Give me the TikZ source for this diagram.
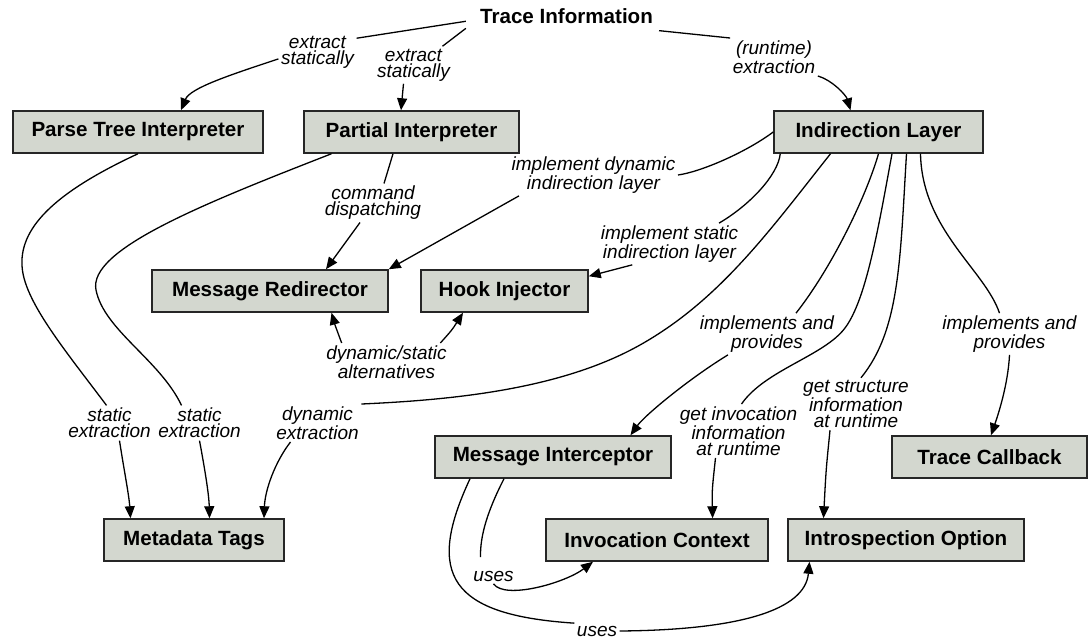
\documentclass[tikz,border=0pt]{standalone}
\usepackage{fontspec}
\setmainfont{Liberation Sans}
\usetikzlibrary{arrows.meta}
\definecolor{boxgray}{RGB}{211,215,207}

\begin{document}
\begin{tikzpicture}[x=1pt, y=-1pt, line width=1.3pt,
	box/.style={draw=black!85, line width=1.5pt, fill=boxgray, minimum height=42pt, inner sep=0pt, font=\fontsize{20.6}{24}\selectfont\bfseries},
	lbl/.style={align=center, inner sep=2pt, font=\fontsize{19}{16}\selectfont\itshape},
	link/.style={black},
	arr/.style={black, -{Triangle[length=12pt,width=10pt]}}]
			\useasboundingbox (0,0) rectangle (1089,639);
			
			%nodes
			\node[font=\fontsize{20.6}{24}\selectfont\bfseries, minimum width=200pt, minimum height=28pt, inner sep=0pt] (trace) at (566.5,16) {Trace Information};
			\node[box, minimum width=250pt] (parse) at (138,132) {Parse Tree Interpreter};
			\node[box, minimum width=215pt] (partial) at (411.5,132) {Partial Interpreter};
			\node[box, minimum width=209pt] (indir) at (878.5,132) {Indirection Layer};
			\node[box, minimum width=236pt] (redir) at (270,291) {Message Redirector};
			\node[box, minimum width=167pt] (hook) at (504.5,291) {Hook Injector};
			\node[box, minimum width=180pt] (meta) at (194,540) {Metadata Tags};
			\node[box, minimum width=236pt] (intc) at (553,457) {Message Interceptor};
			\node[box, minimum width=222pt] (invc) at (657,540) {Invocation Context};
			\node[box, minimum width=236pt] (intro) at (906,540) {Introspection Option};
			\node[box, minimum width=195pt] (callback) at (989.5,457) {Trace Callback};
			
			%edge labels
			\node[lbl] (lA) at (317.5,52) {extract\\statically};
			\node[lbl] (lB) at (413.5,65) {extract\\statically};
			\node[lbl] (lC) at (774,57) {(runtime)\\extraction};
			\node[lbl] (lD) at (373,203) {command\\dispatching};
			\node[lbl] (lE) at (593.5,175) {implement dynamic\\indirection layer};
			\node[lbl] (lF) at (669.5,244) {implement static\\indirection layer};
			\node[lbl] (lG) at (317.5,423) {dynamic\\extraction};
			\node[lbl] (lH) at (109.5,423) {static\\extraction};
			\node[lbl] (lI) at (199.5,423) {static\\extraction};
			\node[lbl] (lJ) at (386.5,362) {dynamic/static\\alternatives};
			\node[lbl] (lK) at (767,334) {implements and\\provides};
			\node[lbl] (lK2) at (738.5,431) {get invocation\\information\\at runtime};
			\node[lbl] (lK3) at (856,404) {get structure\\information\\at runtime};
			\node[lbl] (lK4) at (1009.5,334) {implements and\\provides};
			\node[lbl] (lL) at (493.5,576) {uses};
			\node[lbl] (lM) at (597,631) {uses};
			
			%from the trace information
			\draw[link] (trace.183) -- ([yshift=-5pt]lA.north east);
			\draw[arr] (lA.190) .. controls (230,75) and (190,88) .. ([xshift=43pt]parse.north);
			\draw[link] (trace.187) -- ([xshift=29pt]lB.north);
			\draw[arr] ([xshift=-10pt]lB.south) -- ([xshift=-10.5pt]partial.north);
			\draw[link] (trace.-9) -- (lC.north west);
			\draw[arr] (lC.south east) .. controls (832,80) and (846,95) .. ([xshift=-28pt]indir.north);
			
			%partial interpreter and parse tree
			\draw[link] ([xshift=-18.5pt]partial.south) -- ([xshift=11pt]lD.north);
			\draw[arr] ([xshift=-13pt]lD.south) -- ([xshift=56pt]redir.north);
			\draw[link] (parse.south) .. controls (60,190) and (20,225) .. (22,265) .. controls (23,300) and (65,350) .. ([xshift=-3pt]lH.north);
			\draw[arr] ([xshift=10pt]lH.south) .. controls (124,470) and (129,495) .. ([xshift=-63.5pt]meta.north);
			\draw[link] ([xshift=-80pt]partial.south) .. controls (200,205) and (88,250) .. (96,290) .. controls (104,330) and (160,360) .. ([xshift=-18pt]lI.north);
			\draw[arr] (lI.south) .. controls (205,470) and (209,495) .. ([xshift=15.5pt]meta.north);
			
			%indirection layer
			\draw[link] (indir.west) .. controls (745,153) and (700,172) .. (lE.east);
			\draw[arr] ([xshift=10pt]lE.south west) -- (redir.north east);
			\draw[link] ([xshift=7pt]indir.south west) .. controls (778,175) and (750,205) .. ([xshift=49.5pt]lF.north);
			\draw[arr] ([xshift=34pt]lF.south west) -- ([yshift=-7pt]hook.north east);
			\draw[link] ([xshift=-48pt]indir.south) .. controls (770,230) and (720,300) .. (640,345) .. controls (560,390) and (450,400) .. (lG.north east);
			\draw[arr] ([xshift=-27pt]lG.south) .. controls (275,462) and (265,490) .. ([xshift=70pt]meta.north);
			\draw[link] (indir.south) .. controls (865,200) and (830,270) .. ([xshift=29pt]lK.north);
			\draw[arr] ([xshift=-39pt]lK.south) .. controls (690,378) and (645,415) .. ([xshift=77.5pt]intc.north);
			\draw[link] ([xshift=13.5pt]indir.south) .. controls (878,230) and (866,300) .. (845,328) .. controls (824,356) and (765,370) .. ([xshift=3pt]lK2.north);
			\draw[arr] ([xshift=-23pt]lK2.south) .. controls (712,490) .. ([xshift=55.6pt]invc.north);
			\draw[link] ([xshift=28pt]indir.south) .. controls (900,260) and (900,330) .. ([xshift=5pt]lK3.north);
			\draw[arr] ([xshift=-26pt]lK3.south) .. controls (826,470) .. ([xshift=-82.5pt]intro.north);
			\draw[link] ([xshift=42pt]indir.south) .. controls (922,230) and (985,270) .. ([xshift=-10pt]lK4.north);
			\draw[arr] (lK4.south) .. controls (1008,385) and (998,415) .. ([xshift=1.5pt]callback.north);
			
			%alternatives
			\draw[arr] ([xshift=18pt]lJ.north west) .. controls (335,325) .. ([xshift=61.5pt]redir.south);
			\draw[arr] ([xshift=-9pt]lJ.north east) .. controls (452,330) .. ([xshift=-41.5pt]hook.south);
			
			%message interceptor
			\draw[link] ([xshift=-49pt]intc.south) .. controls (488,510) and (480,535) .. ([xshift=-13pt,yshift=11pt]lL.north);
			\draw[arr] (lL.south) .. controls (505,600) and (565,583) .. ([xshift=-64pt]invc.south);
			\draw[link] ([xshift=-83pt]intc.south) .. controls (425,575) and (450,615) .. (lM.north west);
			\draw[arr] (lM.east) .. controls (740,630) and (805,610) .. ([xshift=-96.5pt]intro.south);
\end{tikzpicture}
\end{document}
